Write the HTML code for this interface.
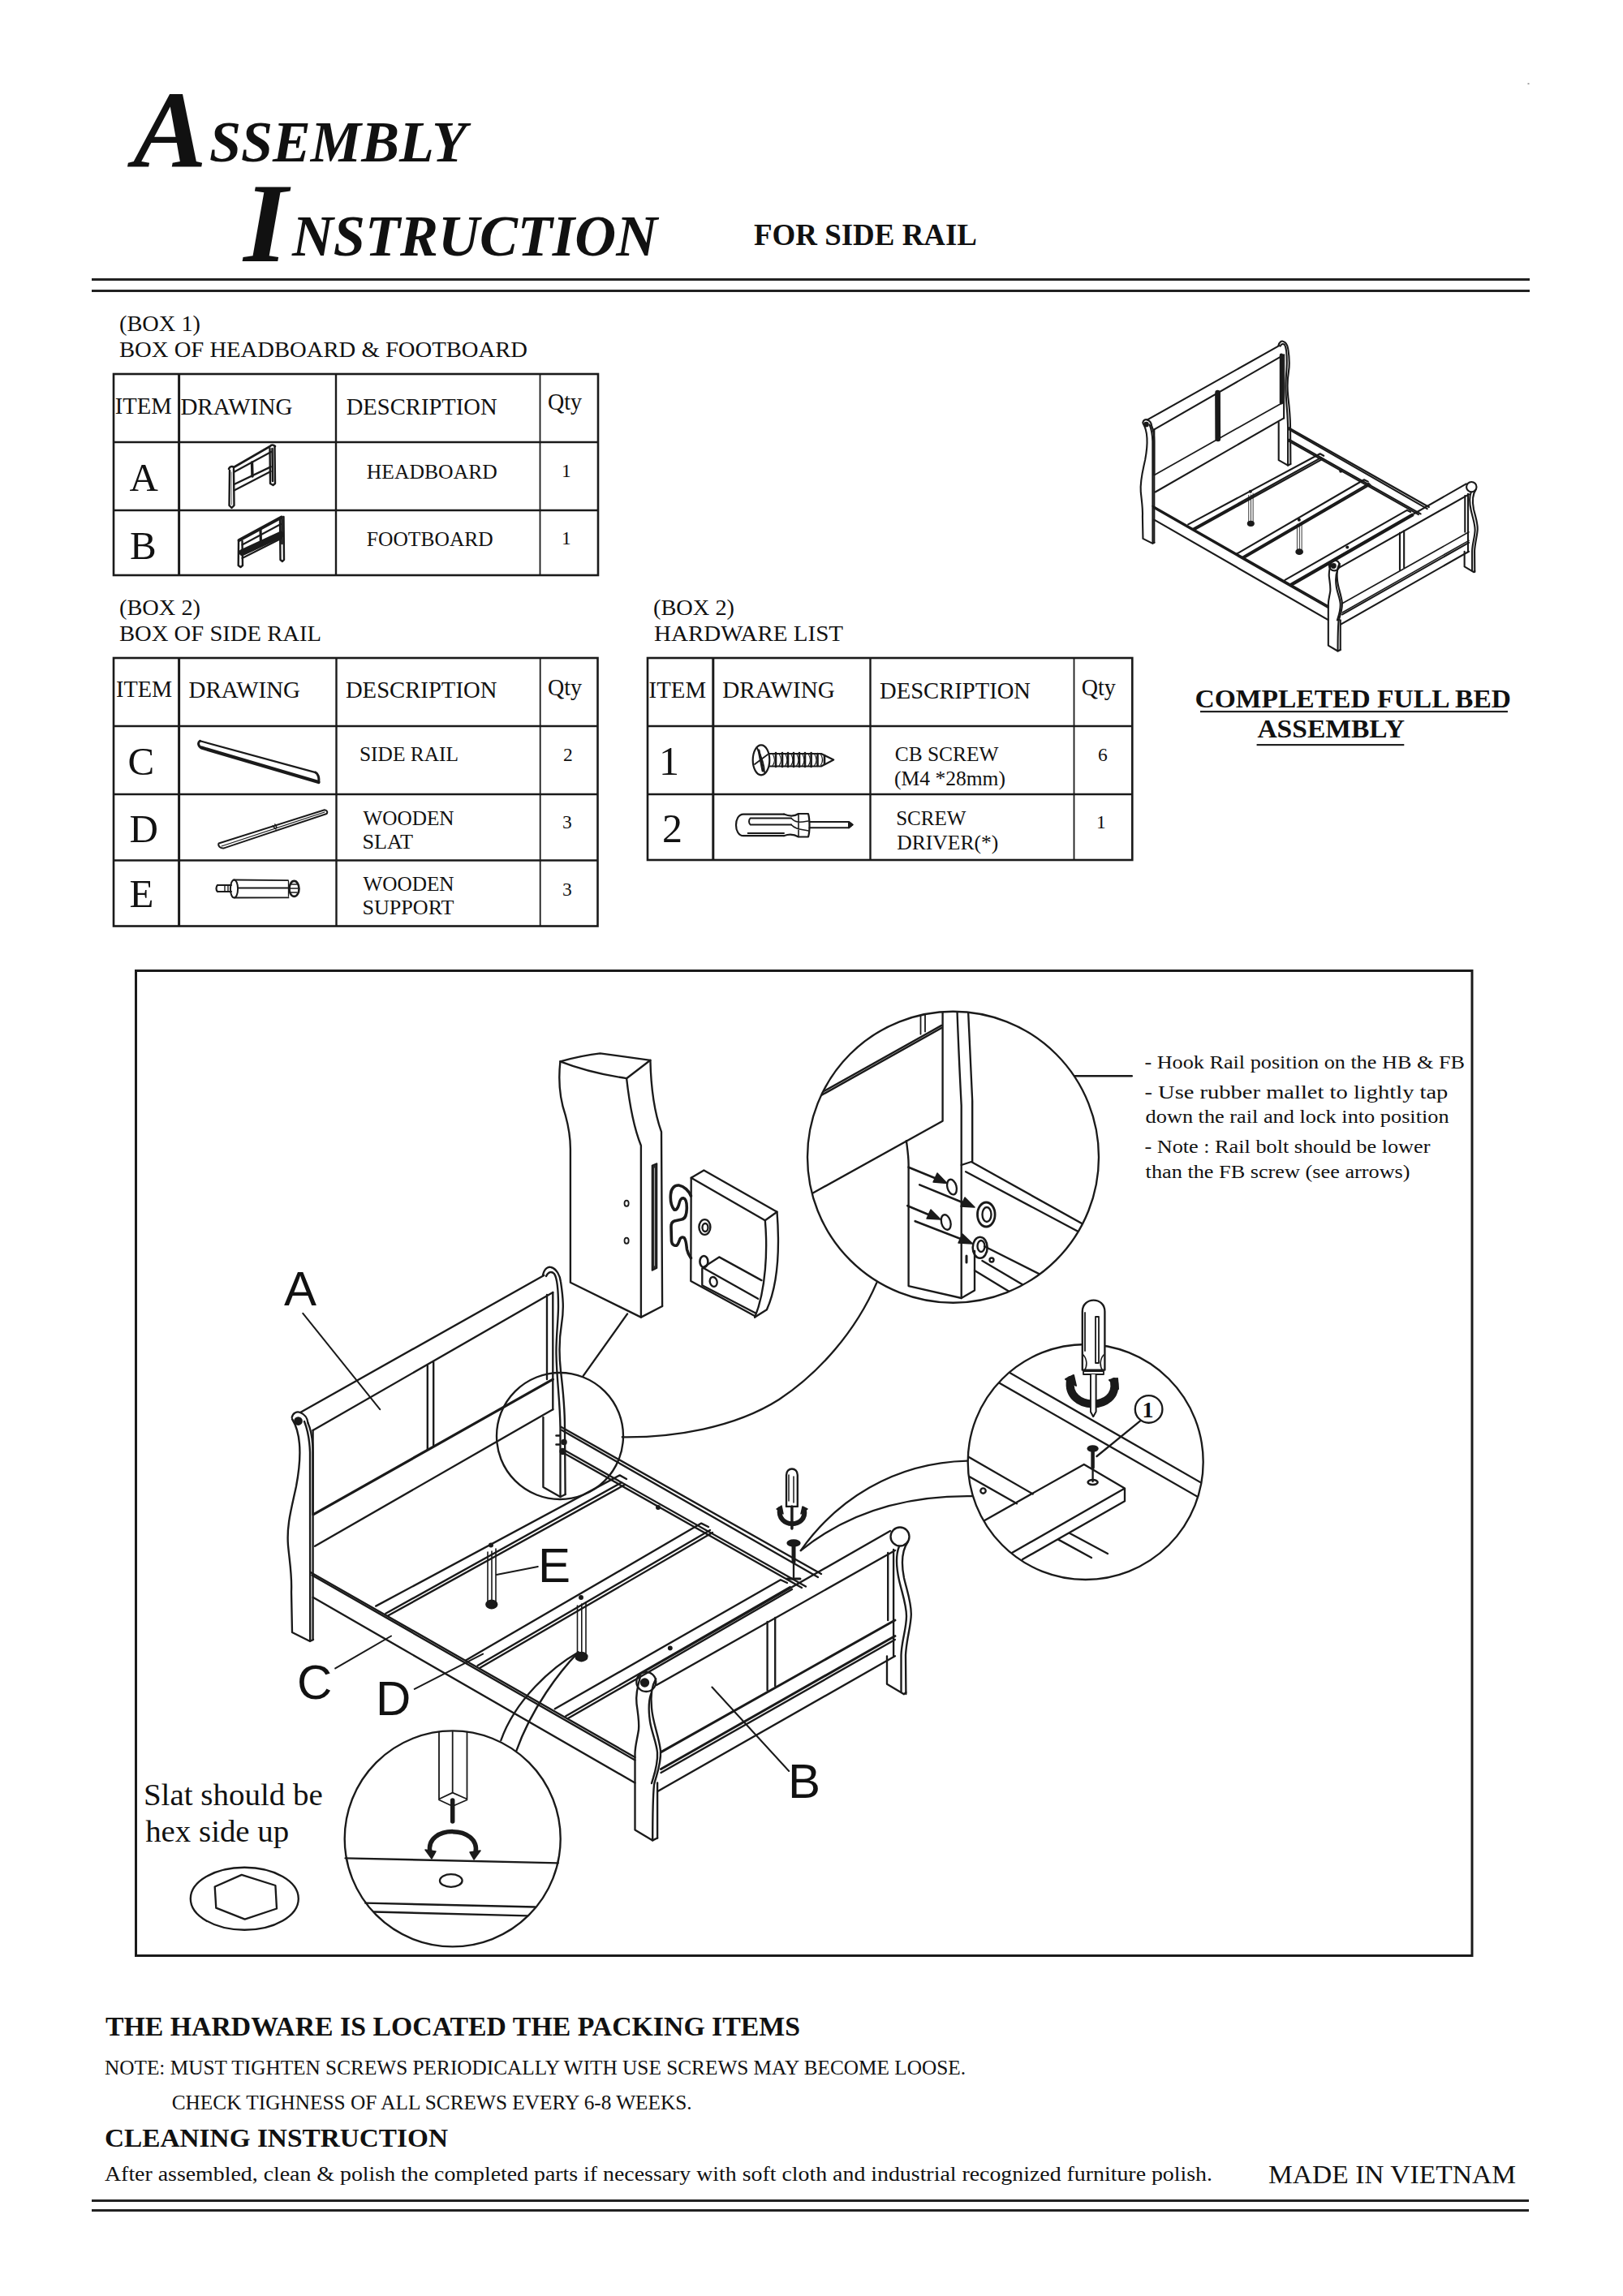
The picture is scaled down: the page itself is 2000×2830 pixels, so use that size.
<!DOCTYPE html>
<html><head><meta charset="utf-8"><title>Assembly Instruction</title>
<style>
html,body{margin:0;padding:0;background:#fff;}
body{width:2000px;height:2830px;overflow:hidden;position:relative;}
svg{position:absolute;left:0;top:0;}
text{font-family:"Liberation Serif",serif;fill:#111;}
.sans{font-family:"Liberation Sans",sans-serif;}
.ln{stroke:#1a1a1a;fill:none;stroke-linecap:round;stroke-linejoin:round;}
</style></head>
<body>
<svg width="2000" height="2830" viewBox="0 0 2000 2830">
<!-- ===== TITLE ===== -->
<g id="title">
<text x="164" y="206" style="font:bold italic 136px 'Liberation Serif'">A</text>
<text x="258" y="199" style="font:bold italic 72px 'Liberation Serif'" textLength="317" lengthAdjust="spacingAndGlyphs">SSEMBLY</text>
<text x="300" y="322" style="font:bold italic 140px 'Liberation Serif'">I</text>
<text x="360" y="315" style="font:bold italic 71px 'Liberation Serif'" textLength="450" lengthAdjust="spacingAndGlyphs">NSTRUCTION</text>
<text x="929" y="302" style="font:bold 37px 'Liberation Serif'" textLength="275" lengthAdjust="spacingAndGlyphs">FOR SIDE RAIL</text>
</g>
<g id="rules" fill="#222">
<rect x="1882.5" y="102.5" width="2" height="1.5" fill="#888"/>
<rect x="113" y="343" width="1772" height="3"/>
<rect x="113" y="357" width="1772" height="3"/>
<rect x="113" y="2711" width="1771" height="3"/>
<rect x="113" y="2723" width="1771" height="3"/>
</g>
<!-- ===== TABLE TEXTS ===== -->
<g id="tabletext">
<text x="141.7" y="509.8" style="font-size:29px" textLength="70" lengthAdjust="spacingAndGlyphs">ITEM</text>
<text x="222.4" y="511" style="font-size:29px" textLength="138" lengthAdjust="spacingAndGlyphs">DRAWING</text>
<text x="426.7" y="511" style="font-size:29px" textLength="186" lengthAdjust="spacingAndGlyphs">DESCRIPTION</text>
<text x="675" y="504.7" style="font-size:29px" textLength="42" lengthAdjust="spacingAndGlyphs">Qty</text>
<text x="159.5" y="605" style="font-size:49px">A</text>
<text x="160" y="689" style="font-size:49px">B</text>
<text x="451.8" y="589.5" style="font-size:26px" textLength="161" lengthAdjust="spacingAndGlyphs">HEADBOARD</text>
<text x="692" y="588" style="font-size:23.5px">1</text>
<text x="451.8" y="673.4" style="font-size:26px" textLength="156" lengthAdjust="spacingAndGlyphs">FOOTBOARD</text>
<text x="692" y="671" style="font-size:23.5px">1</text>
<text x="143" y="859.4" style="font-size:29px" textLength="69" lengthAdjust="spacingAndGlyphs">ITEM</text>
<text x="232.6" y="860" style="font-size:29px" textLength="137.4" lengthAdjust="spacingAndGlyphs">DRAWING</text>
<text x="425.9" y="860.4" style="font-size:29px" textLength="186.5" lengthAdjust="spacingAndGlyphs">DESCRIPTION</text>
<text x="675" y="856.5" style="font-size:29px" textLength="42" lengthAdjust="spacingAndGlyphs">Qty</text>
<text x="157.5" y="955" style="font-size:49px">C</text>
<text x="159.5" y="1038" style="font-size:49px">D</text>
<text x="159.5" y="1118.4" style="font-size:49px">E</text>
<text x="443" y="938" style="font-size:26px" textLength="122" lengthAdjust="spacingAndGlyphs">SIDE RAIL</text>
<text x="694" y="938" style="font-size:23.5px">2</text>
<text x="447.4" y="1016.7" style="font-size:26px" textLength="112.2" lengthAdjust="spacingAndGlyphs">WOODEN</text>
<text x="446.4" y="1046" style="font-size:26px" textLength="62.6" lengthAdjust="spacingAndGlyphs">SLAT</text>
<text x="693" y="1021" style="font-size:23.5px">3</text>
<text x="447.4" y="1097.6" style="font-size:26px" textLength="112.2" lengthAdjust="spacingAndGlyphs">WOODEN</text>
<text x="446.4" y="1126.7" style="font-size:26px" textLength="113.2" lengthAdjust="spacingAndGlyphs">SUPPORT</text>
<text x="693" y="1104" style="font-size:23.5px">3</text>
<text x="799.6" y="859.5" style="font-size:29px" textLength="70.4" lengthAdjust="spacingAndGlyphs">ITEM</text>
<text x="890.3" y="860" style="font-size:29px" textLength="138.5" lengthAdjust="spacingAndGlyphs">DRAWING</text>
<text x="1084" y="860.8" style="font-size:29px" textLength="186" lengthAdjust="spacingAndGlyphs">DESCRIPTION</text>
<text x="1332.8" y="856.5" style="font-size:29px" textLength="42" lengthAdjust="spacingAndGlyphs">Qty</text>
<text x="812" y="955.4" style="font-size:50px">1</text>
<text x="816" y="1037.5" style="font-size:50px">2</text>
<text x="1102.7" y="938" style="font-size:26px" textLength="127.7" lengthAdjust="spacingAndGlyphs">CB SCREW</text>
<text x="1102" y="968.2" style="font-size:26px" textLength="137" lengthAdjust="spacingAndGlyphs">(M4 *28mm)</text>
<text x="1353" y="938" style="font-size:23.5px">6</text>
<text x="1104.2" y="1016.7" style="font-size:26px" textLength="86.3" lengthAdjust="spacingAndGlyphs">SCREW</text>
<text x="1105.3" y="1047" style="font-size:26px" textLength="125" lengthAdjust="spacingAndGlyphs">DRIVER(*)</text>
<text x="1351" y="1021" style="font-size:23.5px">1</text>
<text x="1472.5" y="871.9" style="font:bold 32px 'Liberation Serif'" textLength="389.5" lengthAdjust="spacingAndGlyphs">COMPLETED FULL BED</text>
<text x="1549.4" y="909" style="font:bold 32px 'Liberation Serif'" textLength="181.5" lengthAdjust="spacingAndGlyphs">ASSEMBLY</text>
<rect x="1479" y="876" width="379" height="2.2" fill="#222"/>
<rect x="1548.6" y="917" width="181.7" height="2.2" fill="#222"/>
<text x="147" y="407.5" style="font-size:28px" textLength="100" lengthAdjust="spacingAndGlyphs">(BOX 1)</text>
<text x="147" y="440" style="font-size:28px" textLength="503" lengthAdjust="spacingAndGlyphs">BOX OF HEADBOARD &amp; FOOTBOARD</text>
<text x="147" y="757.7" style="font-size:28px" textLength="100" lengthAdjust="spacingAndGlyphs">(BOX 2)</text>
<text x="147" y="790" style="font-size:28px" textLength="249" lengthAdjust="spacingAndGlyphs">BOX OF SIDE RAIL</text>
<text x="805" y="757.7" style="font-size:28px" textLength="100" lengthAdjust="spacingAndGlyphs">(BOX 2)</text>
<text x="806" y="790" style="font-size:28px" textLength="233" lengthAdjust="spacingAndGlyphs">HARDWARE LIST</text>
</g>
<g id="tables" fill="none" stroke="#1a1a1a">
<rect x="140" y="461" width="597" height="248" stroke-width="2.6"/>
<line x1="140" y1="545" x2="737" y2="545" stroke-width="2.6"/>
<line x1="140" y1="629" x2="737" y2="629" stroke-width="2.6"/>
<line x1="220.6" y1="461" x2="220.6" y2="709" stroke-width="3"/>
<line x1="414" y1="461" x2="414" y2="709" stroke-width="2.4"/>
<line x1="665.5" y1="461" x2="665.5" y2="709" stroke-width="1.8"/>
<rect x="140" y="811" width="596.5" height="330.5" stroke-width="2.6"/>
<line x1="140" y1="895" x2="736.5" y2="895" stroke-width="2.6"/>
<line x1="140" y1="979" x2="736.5" y2="979" stroke-width="2.6"/>
<line x1="140" y1="1060.5" x2="736.5" y2="1060.5" stroke-width="2.6"/>
<line x1="220.6" y1="811" x2="220.6" y2="1141.5" stroke-width="3"/>
<line x1="414.5" y1="811" x2="414.5" y2="1141.5" stroke-width="2.4"/>
<line x1="665.7" y1="811" x2="665.7" y2="1141.5" stroke-width="1.8"/>
<rect x="798" y="811" width="597.3" height="249" stroke-width="2.6"/>
<line x1="798" y1="895" x2="1395.3" y2="895" stroke-width="2.6"/>
<line x1="798" y1="979" x2="1395.3" y2="979" stroke-width="2.6"/>
<line x1="878.8" y1="811" x2="878.8" y2="1060" stroke-width="3"/>
<line x1="1072.5" y1="811" x2="1072.5" y2="1060" stroke-width="2.4"/>
<line x1="1323.5" y1="811" x2="1323.5" y2="1060" stroke-width="1.8"/>
</g>
<defs>
<clipPath id="c2"><circle cx="1174.5" cy="1426.2" r="179.5"/></clipPath>
<clipPath id="c3"><circle cx="1337.7" cy="1802" r="145"/></clipPath>
</defs>
<defs>
<g id="bed">
 <!-- HEADBOARD left post -->
 <path d="M360,1749 C372,1768 371,1800 365,1832 C359,1860 353,1880 355,1905 C357,1926 360,1942 359,1962 L360,2012 L382,2023 L386,2021"/>
 <path d="M379.5,1754 C383,1762 385.5,1775 385.6,1790 L385.6,2021"/>
 <path d="M375,1752 C379,1762 381.5,1775 382,1790 L382.2,2022"/>
 <path d="M359.7,1747 C361,1741 366,1739.5 370,1741 C375,1743 379,1748 379.5,1754"/>
 <circle cx="367.5" cy="1751.5" r="4.2" fill="#1a1a1a"/>
 <!-- crest rail -->
 <path d="M370,1741 L670.3,1572"/>
 <path d="M385.6,1763 L681.3,1593"/>
 <!-- right knob + post -->
 <path d="M669,1571.5 C671,1563 676,1561 679,1562 C686,1564 690,1572 691,1580 C694,1600 695,1614 692,1632 C689,1650 689,1672 691,1690 C694,1715 696,1735 696,1760 L696.6,1842"/>
 <path d="M673,1573 C676,1567 680,1567 683,1570 C687,1576 688,1590 688,1610 C688,1628 685,1648 685.5,1670 C686,1700 690,1725 690.5,1760 L690.5,1845"/>
 <path d="M674,1596 L674,1700 M681.3,1593 L681.3,1737.2"/>
 <path d="M669.4,1747 L669.4,1833 L690.5,1845 L696.6,1842"/>
 <!-- panel -->
 <path d="M385.6,1763 L385.6,1867"/>
 <path d="M526.8,1683 L526.8,1786.5 M534.2,1679 L534.2,1782"/>
 <path d="M386.8,1866.3 L681.3,1700.2" stroke-width="3.2"/>
 <path d="M388,1905.7 L681.3,1737.2"/>
 <!-- near side rail C -->
 <path d="M382.2,1937.7 L782.5,2166"/>
 <path d="M384.4,1941.5 L782.5,2169.5"/>
 <path d="M385.6,1968.8 L782.5,2197.5"/>
 <!-- far side rail -->
 <path d="M691.3,1758.7 L1012,1940"/>
 <path d="M692.2,1762.7 L1008,1944"/>
 <path d="M693,1786 L993,1955.5"/>
 <path d="M693,1790 L988,1957"/>
 <!-- slats -->
 <path d="M463.2,1979.6 L763.7,1818.4 L772,1823"/>
 <path d="M475.3,1988.7 L766,1827.3 M478,1991.5 L770,1830"/>
 <path d="M574,2046.4 L864.2,1877.6 L873,1882"/>
 <path d="M588.5,2053 L875,1886 M591,2056 L878,1889"/>
 <path d="M683.8,2106.3 L961.9,1947.2 L970,1951"/>
 <path d="M697.2,2115.2 L973.7,1956.1 M700,2118 L976,1959"/>
 <!-- supports -->
 <path d="M601,1913 L601,1974 M611,1909 L611,1974 M606,1912 L606,1974" stroke-width="1.6"/>
 <ellipse cx="605.8" cy="1977.5" rx="6.5" ry="4.8" fill="#1a1a1a"/>
 <circle cx="605" cy="1904.5" r="1.8" fill="#1a1a1a"/>
 <path d="M711.5,1979 L711.5,2038 M722,1975 L722,2038 M716.8,1977 L716.8,2038" stroke-width="1.6"/>
 <ellipse cx="716.5" cy="2042" rx="7" ry="5.2" fill="#1a1a1a"/>
 <circle cx="716" cy="1969" r="1.8" fill="#1a1a1a"/>
 <circle cx="811" cy="1858" r="1.8" fill="#1a1a1a"/>
 <circle cx="825.8" cy="2031.5" r="1.8" fill="#1a1a1a"/>
 <!-- FOOTBOARD left post -->
 <path d="M789.4,2065.3 C785,2080 783.5,2092 784.5,2100 C786,2112 788,2122 787,2132 C785,2145 782.5,2152 782.5,2162 L782.5,2255.6 L804.2,2268.4 L810.1,2265.5"/>
 <path d="M808.2,2069.3 C803,2078 801.5,2090 803,2105 C804,2122 812,2140 814,2158 C815,2175 808,2190 806,2200 C804.5,2215 804.2,2240 804.2,2268.4"/>
 <path d="M803,2086 C799,2095 799,2108 801,2122 C803,2135 809,2148 810,2160 C811,2175 806,2188 803,2198"/>
 <path d="M810.1,2197.5 L810.1,2265.5"/>
 <circle cx="796.3" cy="2073" r="12" fill="none"/>
 <circle cx="794.5" cy="2074" r="4.5" fill="#1a1a1a"/>
 <!-- FB crest -->
 <path d="M792,2061.5 L1097,1887"/>
 <path d="M809,2077 L1103,1911"/>
 <!-- FB right knob + post -->
 <circle cx="1109" cy="1894" r="11.5" fill="none"/>
 <path d="M1119,1900 C1112,1910 1110,1925 1114,1945 C1118,1962 1123,1975 1122.8,1990 C1122.5,2005 1117,2020 1116,2040 L1116.4,2088"/>
 <path d="M1108,1906 C1104,1916 1104,1930 1108,1948 C1112,1965 1117,1978 1117,1992 C1117,2008 1111,2022 1110.5,2040 L1110.5,2085"/>
 <path d="M1094.2,1914 L1094.2,1997 M1101.1,1910 L1101.1,2041"/>
 <path d="M1093,2041.3 L1093,2075.8 L1114,2088.2 L1116.4,2086"/>
 <!-- FB panel -->
 <path d="M945.6,1999 L945.6,2083.3 M955.2,1994 L955.2,2078"/>
 <path d="M814.5,2159.6 L1102.9,1997" stroke-width="3"/>
 <path d="M814.5,2180.5 L1102.9,2016.5" stroke-width="3"/>
 <path d="M814.5,2185 L1102.9,2021"/>
 <path d="M810.8,2207.7 L1102.9,2041.3"/>
</g>
</defs>

<g id="diagram" class="ln" stroke-width="2.35">
 <use href="#bed"/>
 <!-- labels -->
 <g stroke="none" fill="#111">
 <text class="sans" x="350" y="1609" style="font-size:60px;fill:#111">A</text>
 <text class="sans" x="971" y="2216.3" style="font-size:60px;fill:#111">B</text>
 <text class="sans" x="366" y="2094" style="font-size:60px;fill:#111">C</text>
 <text class="sans" x="463" y="2114" style="font-size:60px;fill:#111">D</text>
 <text class="sans" x="663" y="1949.9" style="font-size:60px;fill:#111">E</text>
 </g>
 <path d="M373.3,1618.9 L468.2,1737.2 M877.4,2079.5 L972.2,2183 M413.2,2056.4 L482,2016.5 M510.8,2081.9 L595.1,2038.6 M611.8,1941 L662.8,1931" stroke-width="2"/>
 <!-- inset 1 -->
 <circle cx="690" cy="1770" r="78"/>
 <path d="M685.5,1769.5 L689.5,1769.5 M685.5,1780.5 L689.5,1780.5" stroke-width="2.6"/>
 <circle cx="695" cy="1777.5" r="2.6" fill="#1a1a1a"/>
 <circle cx="693.5" cy="1789" r="3" fill="#1a1a1a"/>
 <!-- leader: inset1 to post detail -->
 <path d="M718.7,1695.9 L773.1,1619.4"/>
 <!-- curve inset1 -> inset2 -->
 <path d="M766.8,1771.3 C830,1772 905,1760 960,1725 C1010,1692 1055,1640 1080.3,1581.1"/>
 <!-- inset 2 -> text leader -->
 <path d="M1324.3,1326.2 L1394.8,1326.2"/>
 <!-- bed screw -> inset 3 curves -->
 <path d="M986.8,1911.1 C1030,1850 1100,1803 1191.8,1800.7"/>
 <path d="M986.8,1911.1 C1040,1868 1110,1843 1197.7,1844.1"/>
 <!-- E2 foot -> inset 4 curves -->
 <path d="M712.7,2036.4 C680,2055 635,2095 617.3,2145.1"/>
 <path d="M712.7,2036.4 C690,2060 655,2105 636.2,2158.4"/>
 <!-- bed screw -->
 <path d="M978,1903 L978,1925" stroke-width="5"/>
 <ellipse cx="978" cy="1902" rx="7.5" ry="3.5" fill="#1a1a1a"/>
 <path d="M978,1925 L978,1944"/>
 <path d="M970,1946 L986,1946" stroke-width="3"/>
 <!-- small screwdriver -->
 <path d="M969,1856.9 L969,1818 C969,1808 982.8,1808 982.8,1818 L982.8,1856.9 Z" fill="#fff"/>
 <path d="M972,1818 L972,1850 M978,1820 L978,1852" stroke-width="1.5"/>
 <path d="M975.9,1857 L975.9,1884" stroke-width="3"/>
 <path d="M961,1860 C957,1884 995,1884 991,1861" stroke-width="6"/>
 <path d="M957,1860 L963,1856 L965,1866 Z M995,1860 L989,1857 L987,1866 Z" fill="#1a1a1a" stroke-width="1.5"/><path d="M975.9,1857 L975.9,1884" stroke-width="3" stroke="#1a1a1a"/>

 <!-- post detail -->
 <path d="M690.4,1308.3 C710,1303 725,1300 739.6,1298.4 C760,1301 782,1304 801.4,1306.8 L772.1,1329.2 C745,1325 715,1318 690.4,1308.3 Z"/>
 <path d="M690.4,1308.3 C688,1330 689,1352 696.7,1374.3 C701,1390 702.9,1403 702.9,1416.2 L702.9,1580.7 L789.9,1623.6 L816.1,1610"/>
 <path d="M772.1,1329.2 C775,1355 781,1390 789.9,1412 L789.9,1623.6"/>
 <path d="M801.4,1306.8 C802,1335 806,1370 815,1395.2 L816.1,1610"/>
 <path d="M803.5,1436.5 L809.5,1434 L809.5,1563 L803.5,1566 Z" stroke-width="1.6" fill="#2a2a2a"/><path d="M806.5,1440 L806.5,1560" stroke="#aaa" stroke-width="1"/>
 <ellipse cx="772.1" cy="1483.2" rx="2.6" ry="3.6" stroke-width="1.8"/>
 <ellipse cx="772.1" cy="1529.3" rx="2.6" ry="3.6" stroke-width="1.8"/>
 <!-- hook plate -->
 <path d="M851.4,1474 C849,1468 843,1462 836.6,1461 C831,1460.5 827,1465 826.5,1472 C826,1478 826.5,1486 830.8,1491 C833,1492 835,1490 836.5,1485 C837.5,1480 839,1476.5 842,1476.8 C845,1477.5 846.5,1483 846.3,1490 C846,1497 845,1502 840,1503 L831,1505 C828,1506 827,1508 827,1512 L827.5,1530 C828,1534 831,1536 834,1535 C836,1533.5 837,1529 838,1527 C839,1525 841,1524.5 843,1525.5 C845.5,1528 846,1535 846.5,1540 C847.5,1545 849.5,1548 851.4,1550.6" stroke-width="3.6"/>
 <!-- bracket -->
 <path d="M851.7,1451.8 L867.4,1442.4 L957.5,1493.7 L942.8,1504.2 Z"/>
 <path d="M851.7,1451.8 L851.3,1579 L930,1622"/>
 <path d="M942.8,1504.2 C946,1540 944,1590 930.2,1623.6"/>
 <path d="M957.5,1493.7 C961,1540 958,1585 944.9,1614.2 L930.2,1623.6"/>
 <ellipse cx="868.4" cy="1512.5" rx="7" ry="9.4" stroke-width="2.4"/>
 <ellipse cx="869" cy="1513" rx="3.5" ry="5"/>
 <ellipse cx="867.4" cy="1555" rx="5" ry="7" stroke-width="2.6"/>
 <path d="M866.1,1562.4 L886.2,1549.4 L938.5,1578.1 M866.1,1562.4 L934.1,1600.8 M865.3,1563.3 L865.3,1584.2 L930.6,1618.2" />
 <ellipse cx="879.2" cy="1579.9" rx="4.4" ry="6" transform="rotate(-15 879.2 1579.9)"/>

 <!-- inset 2 -->
 <g clip-path="url(#c2)">
  <path d="M1005,1350.8 L1160.3,1263.9 M1005,1354 L1160.3,1267"/>
  <path d="M1161.6,1240 L1161.6,1381.8 L990,1477"/>
  <path d="M1134.5,1240 L1134.5,1274.7 M1140,1240 L1140,1271.5" stroke-width="1.8"/>
  <path d="M1179.3,1240 C1181,1290 1183,1330 1184.7,1362.8 L1184.7,1600"/>
  <path d="M1192.8,1240 C1195,1290 1197,1330 1198.2,1357 L1198.2,1432"/>
  <path d="M1116.9,1406.2 C1118,1415 1119.6,1425 1119.6,1435 L1119.6,1585.1 L1184.7,1600 L1201,1590.6 L1201,1541.8"/>
  <path d="M1184.7,1436 L1196.9,1432 L1360,1523 M1190.1,1444.2 L1355,1532"/>
  <path d="M1213.1,1536.3 L1300,1580 M1210.4,1554 L1285,1598 M1201,1566 L1270,1608"/>
  <ellipse cx="1173" cy="1463.1" rx="5.6" ry="9.5" transform="rotate(-15 1173 1463.1)"/>
  <ellipse cx="1165.7" cy="1506.5" rx="5.6" ry="9.5" transform="rotate(-15 1165.7 1506.5)"/>
  <ellipse cx="1215.3" cy="1497" rx="10.8" ry="15" stroke-width="2.8"/>
  <ellipse cx="1216" cy="1497" rx="5.5" ry="9"/>
  <ellipse cx="1207.7" cy="1537.7" rx="9" ry="13" stroke-width="2.6"/>
  <ellipse cx="1209" cy="1536" rx="4.5" ry="7"/>
  <circle cx="1222" cy="1553" r="2.5"/>
  <path d="M1119.6,1438.7 L1158,1454.5 M1133.2,1460.4 L1192,1484.5 M1118.3,1486.2 L1150,1499.5 M1127.7,1505.2 L1189,1529" stroke-width="2.6"/>
  <path d="M1167,1458.5 L1150,1457 L1155,1446 Z M1201,1488 L1184,1487 L1189,1476 Z M1159,1503 L1142,1502 L1147,1491 Z M1198.5,1533 L1181,1532 L1186,1521 Z" fill="#1a1a1a" stroke-width="1.5"/>
  <path d="M1191,1548 L1191,1556" stroke-width="3"/>
 </g>
 <circle cx="1174.5" cy="1426.2" r="179.5"/>

 <!-- inset 3 -->
 <g clip-path="url(#c3)">
  <path d="M1240,1689.6 L1500,1839 M1226,1701.5 L1490,1853"/>
  <path d="M1186,1791.5 L1272.7,1841.4 M1186,1815.3 L1253,1853.2"/>
  <circle cx="1211.5" cy="1837.5" r="3.2"/>
  <path d="M1205,1878.7 L1335.8,1804.9 L1386,1834.5 L1386,1850.3 L1260,1922 M1386,1834.5 L1240,1918"/>
  <path d="M1318,1889.7 L1365,1915 M1304.2,1897.6 L1345,1920"/>
 </g>
 <circle cx="1337.7" cy="1802" r="145"/>
 <!-- inset3 screw and driver -->
 <path d="M1346.6,1786 L1346.6,1809" stroke-width="4.5"/>
 <ellipse cx="1346.6" cy="1785.5" rx="6" ry="3" fill="#1a1a1a"/>
 <path d="M1346.6,1809 L1346.6,1826"/>
 <ellipse cx="1346.6" cy="1827" rx="6" ry="3" stroke-width="2.6"/>
 <path d="M1351.5,1795 L1404.8,1751.7"/>
 <circle cx="1415.6" cy="1736.9" r="16.8"/>
 <text x="1407.5" y="1747" style="font-size:28px;font-weight:bold;fill:#111" stroke="none">1</text>
 <path d="M1333.8,1688.6 L1333.8,1616.6 C1333.8,1598 1361.4,1598 1361.4,1616.6 L1361.4,1688.6 Z" fill="#fff"/>
 <path d="M1337,1618 L1337,1665 M1350,1623 L1350,1680 L1354,1680 L1354,1623 Z" stroke-width="1.8"/>
 <path d="M1335,1670 C1340,1676 1340,1684 1336,1690 L1359,1690 C1355,1684 1355,1676 1360,1670" stroke-width="1.6"/>
 <path d="M1335,1690 L1360,1690 L1360,1694 L1335,1694 Z" stroke-width="1.8"/>
 <path d="M1344,1694 L1344,1740 L1347.2,1746 L1350.5,1740 L1350.5,1694" stroke-width="1.8"/>
 <path d="M1319,1701 C1313,1740 1379,1740 1373,1703" stroke-width="10"/>
 <path d="M1313,1700 L1323,1695 L1326,1708 Z M1367,1701 L1377,1699 L1378,1712 Z" fill="#1a1a1a" stroke-width="2"/>
 <path d="M1344,1694 L1344,1740 L1347.2,1746 L1350.5,1740 L1350.5,1694" stroke-width="1.8" fill="#fff"/>

 <!-- inset 4 -->
 <circle cx="557.7" cy="2266.4" r="133"/>
 <path d="M541,2134.6 L541,2217.5 L557.7,2209.6 L575.5,2217.5 L575.5,2134.6 M557.7,2134.6 L557.7,2209.6 M541,2218.5 L557.7,2226.3 L575.5,2218.5" stroke-width="1.8"/>
 <path d="M557.7,2219 L557.7,2245" stroke-width="5.5"/>
 <path d="M530,2283 C523,2249 593,2249 586,2284" stroke-width="5.5"/>
 <path d="M524,2280 L537,2282 L532,2291 Z M592,2281 L579,2283 L584,2292 Z" fill="#1a1a1a" stroke-width="1.5"/>
 <path d="M425.6,2290.4 L687.9,2296.3"/>
 <ellipse cx="555.8" cy="2318" rx="13.8" ry="7.9"/>
 <path d="M450.3,2345.6 L659.3,2350.5 M461.1,2356.5 L650.4,2361.4"/>

 <!-- hex icon -->
 <ellipse cx="301.3" cy="2340.2" rx="66.5" ry="38.5"/>
 <path d="M297.8,2310.9 L339.4,2324 L341,2352.5 L301.7,2365.6 L266.3,2351.7 L264.7,2325.5 Z"/>
</g>

<g id="icons" class="ln" stroke-width="2">
 <!-- headboard icon -->
 <path d="M283,580 L282.5,623 L285.5,626 L288.5,623 L288,578" stroke-width="2.4"/>
 <path d="M285.2,582 L285.5,622" stroke-width="1" stroke="#777"/>
 <path d="M332.5,553 L333,596 L336.5,598 L339,596 L338.5,550" stroke-width="2.4"/>
 <path d="M335.5,553 L336,593" stroke-width="2.5"/>
 <path d="M282,578 C283,575 286,574 288,576 L333,550 C334,548 337,548 339,550" stroke-width="2.6"/>
 <path d="M288,582 L334,557" stroke-width="2.2"/>
 <path d="M288.5,597 L333.7,575.3" stroke-width="2.4"/>
 <path d="M288.5,604.5 L333.7,581" stroke-width="2.2"/>
 <path d="M310.5,570 L311,587" stroke-width="3.4"/>
 <!-- footboard icon -->
 <path d="M294,667 L293.7,697 L296.5,699 L299,697 L298.5,667" stroke-width="2.4"/>
 <path d="M345,640 L345.5,690 L348,692 L350,690 L349.5,637" stroke-width="2.4"/>
 <path d="M347.5,640 L347.5,670" stroke-width="2.6"/>
 <path d="M294.5,666 L347,637.5" stroke-width="4"/>
 <path d="M298.5,671.5 L346,646" stroke-width="2"/>
 <path d="M298.5,681 L346,659" stroke-width="8"/>
 <path d="M298.5,688 L346,664" stroke-width="2"/>
 <path d="M321,652.5 L321.5,671" stroke-width="3.2"/>
 <!-- side rail icon -->
 <path d="M246.5,913.3 L388.8,952.1" stroke-width="2.2"/>
 <path d="M248.3,921.6 L392.5,964.1" stroke-width="4.2"/>
 <path d="M246.5,913.3 C243.5,915 244,920 248.3,921.6 M388.8,952.1 C391,953 394,958 392.5,964.1" stroke-width="3"/>
 <!-- slat icon -->
 <path d="M269.6,1039.5 L399.9,998.3 C403,998.5 404,1001 402.6,1003 L276,1045.4 C272,1046 268,1043 269.6,1039.5 Z" stroke-width="2"/>
 <path d="M273,1043 L400,1001" stroke-width="1.2"/>
 <path d="M336,1018 L340,1022 M338.9,1016 L341,1020" stroke-width="1.6"/>
 <!-- support icon -->
 <path d="M268,1091 L285,1091 M268,1099 L285,1099 M268,1091 C266,1093 266,1097 268,1099" stroke-width="2.2"/>
 <path d="M277,1091 L277,1099 M281,1091 L281,1099" stroke-width="1.4"/>
 <ellipse cx="288.5" cy="1095.5" rx="4.6" ry="11" stroke-width="2"/>
 <path d="M288,1084.5 L355,1085.2 M289,1106.5 L355.5,1106.4 M293,1094.5 L355,1094.5" stroke-width="1.8"/>
 <ellipse cx="362.5" cy="1095.4" rx="6" ry="9.5" stroke-width="2.6"/>
 <path d="M358,1090 L366,1090 M357,1095 L367,1095 M358,1100 L366,1100 M355.5,1086 L355.5,1105" stroke-width="1.3"/>
 <!-- CB screw icon -->
 <ellipse cx="938" cy="936.8" rx="10.3" ry="18.5" stroke-width="2.2"/>
 <path d="M933,922 C938,932 942,942 942,952 M930,942 L946,930" stroke-width="1.8"/>
 <path d="M935,925 L940,950" stroke-width="3"/>
 <path d="M948.3,929 L1012,929 L1027.2,936.5 L1012,944.5 L948.3,944.5" stroke-width="2.2"/>
 <path d="M956,928 L956,945 M964,928 L964,945 M971,928 L971,945 M978,928 L978,945 M985,928 L985,945 M992,928 L992,945 M999.6,928 L999.6,945 M1007.5,929 L1007.5,944 M1016,931 L1016,942" stroke-width="2.6"/>
 <path d="M952,929 C955,934 955,940 952,944 M960,929 C963,934 963,940 960,944 M967.5,929 C970.5,934 970.5,940 967.5,944 M974.5,929 C977.5,934 977.5,940 974.5,944 M981.5,929 C984.5,934 984.5,940 981.5,944 M988.5,929 C991.5,934 991.5,940 988.5,944 M996,929 C999,934 999,940 996,944 M1003.5,929 C1006.5,934 1006.5,940 1003.5,944 M1011.5,930 C1014,934 1014,939 1011.5,943" stroke-width="1.2"/>
 <!-- screwdriver icon -->
 <path d="M966,1003.6 L916,1003.6 C904,1003.6 904,1030.2 916,1030.2 L966,1030.2" stroke-width="2.2"/>
 <path d="M966,1003.6 C972,1006 978,1007 984,1003 L996,1003 C998,1010 998,1025 996,1031.5 L984,1031.5 C978,1028 972,1028 966,1030.2" stroke-width="2.2"/>
 <path d="M924.6,1008.5 L975,1008.5 M924.6,1016.4 L975,1016.4 M924.6,1008.5 C922.5,1010 922.5,1015 924.6,1016.4" stroke-width="2"/>
 <path d="M921.7,1027 L966,1027 M921.7,1030 L966,1030" stroke-width="2"/>
 <path d="M975,1008.5 C980,1014 984,1014 996,1012 M975,1016.4 C980,1022 986,1022 996,1024 M984,1003 L984,1031.5" stroke-width="1.6"/>
 <path d="M997.6,1013 L1046,1013 L1050.5,1016.6 L1046,1020.3 L997.6,1020.3" stroke-width="2"/>
 <path d="M1046,1013 L1050.5,1016.6 L1046,1020.3 Z" fill="#1a1a1a"/>
</g>
<g class="ln" stroke-width="3.9">
 <use href="#bed" transform="translate(1411.6,520.1) scale(0.5405) translate(-365.8,-1745.9)"/>
 <path d="M1500.5,484 L1500.9,541" stroke-width="6.5"/>
 <path d="M1579,437.7 L1579,496.3" stroke-width="4.5"/>
</g>

<!-- ===== MAIN BOX ===== -->
<rect x="167.5" y="1196.5" width="1646.5" height="1214" fill="none" stroke="#1a1a1a" stroke-width="3"/>
<g id="diagtext">
<text x="1410.4" y="1317.2" style="font-size:24px" textLength="394.6" lengthAdjust="spacingAndGlyphs">- Hook Rail position on the HB &amp; FB</text>
<text x="1410.4" y="1354.2" style="font-size:24px" textLength="374" lengthAdjust="spacingAndGlyphs">- Use rubber mallet to lightly tap</text>
<text x="1411.6" y="1383.7" style="font-size:24px" textLength="374" lengthAdjust="spacingAndGlyphs">down the rail and lock into position</text>
<text x="1410.4" y="1420.7" style="font-size:24px" textLength="352" lengthAdjust="spacingAndGlyphs">- Note : Rail bolt should be lower</text>
<text x="1411.6" y="1451.7" style="font-size:24px" textLength="326" lengthAdjust="spacingAndGlyphs">than the FB screw (see arrows)</text>
<text x="176.9" y="2224.7" style="font-size:37px" textLength="221" lengthAdjust="spacingAndGlyphs">Slat should be</text>
<text x="179.2" y="2270" style="font-size:37px" textLength="177" lengthAdjust="spacingAndGlyphs">hex side up</text>
</g>
<!-- ===== BOTTOM TEXT ===== -->
<g id="bottom">
<text x="130" y="2509.3" style="font:bold 34px 'Liberation Serif'" textLength="856" lengthAdjust="spacingAndGlyphs">THE HARDWARE IS LOCATED THE PACKING ITEMS</text>
<text x="129" y="2557" style="font-size:25px" textLength="1061" lengthAdjust="spacingAndGlyphs">NOTE: MUST TIGHTEN SCREWS PERIODICALLY WITH USE SCREWS MAY BECOME LOOSE.</text>
<text x="211.7" y="2600" style="font-size:25px" textLength="641" lengthAdjust="spacingAndGlyphs">CHECK TIGHNESS OF ALL SCREWS EVERY 6-8 WEEKS.</text>
<text x="129" y="2645.6" style="font:bold 31px 'Liberation Serif'" textLength="423" lengthAdjust="spacingAndGlyphs">CLEANING INSTRUCTION</text>
<text x="129" y="2687.8" style="font-size:25px" textLength="1365" lengthAdjust="spacingAndGlyphs">After assembled, clean &amp; polish the completed parts if necessary with soft cloth and industrial recognized furniture polish.</text>
<text x="1563" y="2690.8" style="font-size:32px" textLength="305" lengthAdjust="spacingAndGlyphs">MADE IN VIETNAM</text>
</g>
</svg>
</body></html>
